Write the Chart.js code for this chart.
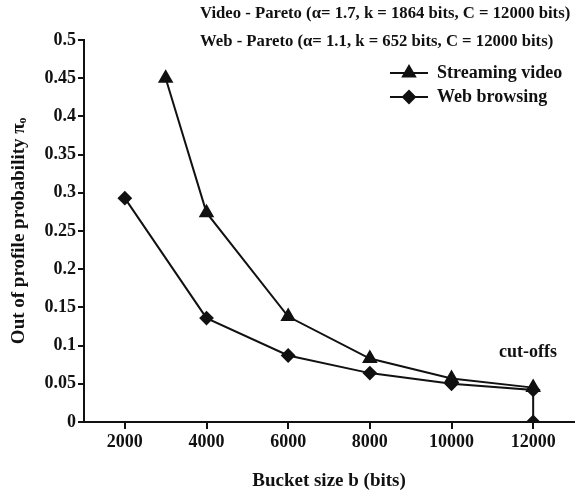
<!DOCTYPE html>
<html>
<head>
<meta charset="utf-8">
<script src="https://cdn.jsdelivr.net/npm/chart.js@4"></script>
<style>
  html, body { margin: 0; padding: 0; background: #fff; }
  #wrap { width: 576px; height: 498px; }
</style>
</head>
<body>
<div id="wrap"><canvas id="chart" width="576" height="498"></canvas></div>
<script>
const xTicks = [2000, 4000, 6000, 8000, 10000, 12000];
const videoBuckets = [3000, 4000, 6000, 8000, 10000, 12000];
const videoProb = [0.450, 0.274, 0.138, 0.083, 0.057, 0.045];
const webBuckets = [2000, 4000, 6000, 8000, 10000, 12000, 12000];
const webProb = [0.293, 0.136, 0.087, 0.064, 0.050, 0.042, 0];
const titleLines = [
    'Video - Pareto (\u03b1= 1.7, k = 1864 bits, C = 12000 bits)',
    'Web - Pareto (\u03b1= 1.1, k = 652 bits, C = 12000 bits)'
];

const ink = '#111';
const serif = "'Liberation Serif', 'DejaVu Serif', serif";

const toPoints = (xs, ys) => xs.map((x, i) => ({ x, y: ys[i] }));

const overlay = {
    id: 'overlay',
    afterDraw(chart) {
        const ctx = chart.ctx;
        ctx.save();
        ctx.fillStyle = ink;
        ctx.textBaseline = 'middle';
        ctx.textAlign = 'left';
        ctx.font = 'bold 16.7px ' + serif;
        ctx.fillText(titleLines[0], 200, 14);
        ctx.fillText(titleLines[1], 200, 42);

        // legend
        ctx.font = 'bold 18px ' + serif;
        chart.data.datasets.forEach((ds, i) => {
            const y = 73 + i * 24;
            ctx.strokeStyle = ink;
            ctx.lineWidth = 2;
            ctx.beginPath();
            ctx.moveTo(390, y);
            ctx.lineTo(428, y);
            ctx.stroke();
            Chart.helpers.drawPoint(ctx, {
                pointStyle: ds.pointStyle,
                radius: ds.pointRadius,
                borderWidth: 1
            }, 409, y);
            ctx.fillStyle = ink;
            ctx.fillText(ds.label, 437, y);
        });

        ctx.fillText('cut-offs', 499, 352);
        ctx.restore();
    }
};

new Chart(document.getElementById('chart'), {
    type: 'line',
    data: {
        datasets: [
            {
                label: 'Streaming video',
                data: toPoints(videoBuckets, videoProb),
                borderColor: ink,
                backgroundColor: ink,
                borderWidth: 2,
                pointStyle: 'triangle',
                pointRadius: 7,
                pointBackgroundColor: ink,
                pointBorderColor: ink,
                tension: 0
            },
            {
                label: 'Web browsing',
                data: toPoints(webBuckets, webProb),
                borderColor: ink,
                backgroundColor: ink,
                borderWidth: 2,
                pointStyle: 'rectRot',
                pointRadius: 6,
                pointBackgroundColor: ink,
                pointBorderColor: ink,
                tension: 0
            }
        ]
    },
    options: {
        responsive: false,
        animation: false,
        layout: { autoPadding: false, padding: { top: 40, right: 2, left: 0, bottom: 0 } },
        plugins: {
            legend: { display: false },
            tooltip: { enabled: false }
        },
        scales: {
            x: {
                type: 'linear',
                min: 1000,
                max: 13000,
                afterBuildTicks: (scale) => { scale.ticks = xTicks.map(v => ({ value: v })); },
                afterFit: (scale) => {
                    scale.height = 76;
                    scale.paddingLeft = 0;
                    scale.paddingRight = 0;
                },
                border: { display: true, color: ink, width: 2 },
                grid: { drawOnChartArea: false, color: ink, lineWidth: 2, tickLength: 7 },
                ticks: {
                    color: ink,
                    font: { family: serif, size: 18, weight: 'bold' },
                    padding: 3,
                    maxRotation: 0,
                    callback: (v) => String(v)
                },
                title: {
                    display: true,
                    text: 'Bucket size b (bits)',
                    color: ink,
                    font: { family: serif, size: 19, weight: 'bold' },
                    padding: { top: 4, bottom: 6 }
                }
            },
            y: {
                min: 0,
                max: 0.5,
                afterFit: (scale) => { scale.width = 84; },
                border: { display: true, color: ink, width: 2 },
                grid: { drawOnChartArea: false, color: ink, lineWidth: 2, tickLength: 6 },
                ticks: {
                    stepSize: 0.05,
                    color: ink,
                    font: { family: serif, size: 18, weight: 'bold' },
                    padding: 2,
                    callback: (v) => String(Math.round(v * 100) / 100)
                },
                title: {
                    display: true,
                    text: 'Out of profile probability \u03c0\u2092',
                    color: ink,
                    font: { family: serif, size: 19, weight: 'bold' },
                    padding: { top: 8, bottom: 4 }
                }
            }
        }
    },
    plugins: [overlay]
});
</script>
</body>
</html>
